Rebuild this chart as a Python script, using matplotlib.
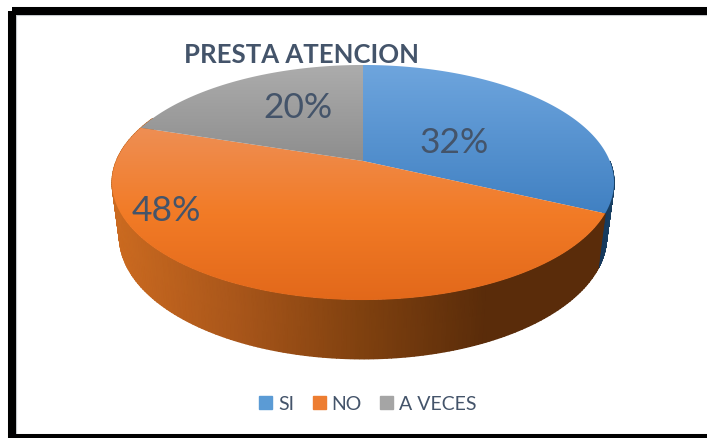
import matplotlib
matplotlib.use('Agg')
import matplotlib.pyplot as plt
from matplotlib.colors import LinearSegmentedColormap
from matplotlib.patches import Polygon, Rectangle
import numpy as np

plt.rcParams['font.family'] = ['Lato', 'DejaVu Sans']

title = 'PRESTA ATENCION'
categories = ['SI', 'NO', 'A VECES']
values = [32, 48, 20]
labels = ['32%', '48%', '20%']
label_pos = [(454, 143), (166, 211), (298, 108)]

# vertical gradient of each top face (far -> near)
top_cols = [['#6fa6de', '#4080c2'], ['#ee8f55', '#f27b26', '#e2681a'], ['#adadad', '#8d8d8d']]
wall_cols = [['#16375a', '#1a4468'], ['#cc6b20', '#a9561a', '#80410f', '#5a2c0a', '#5a2c0a']]
legend_cols = ['#5b9bd5', '#ed7d31', '#a5a5a5']
text_col = '#44546a'


def top_rim(t):
    u, v = np.sin(t), np.cos(t)
    d = 1 + 0.183 * v
    return 363 + 246.8 * u / d, 162 - 113.6 * v / d


def bottom_rim(t):
    u, v = np.sin(t), np.cos(t)
    d = 1 + 0.183 * v
    return 363 + 239.5 * u / d, 215.4 - 118.1 * v / d


fig = plt.figure(figsize=(7.07, 4.39), dpi=100)
ax = fig.add_axes([0, 0, 1, 1])
ax.set_xlim(0, 707)
ax.set_ylim(439, 0)
ax.axis('off')

edges = np.radians(np.cumsum([0] + values) * 3.6)

# side wall, only the part that faces us
wall_ranges = [(np.pi / 2, edges[1]), (edges[1], edges[2] + 0.1)]
for (a, b), cols in zip(wall_ranges, wall_cols):
    t = np.linspace(a, b, 200)
    x0, y0 = top_rim(t)
    x1, y1 = bottom_rim(t)
    X = np.array([x0, x1])
    Y = np.array([y0, y1])
    cm = LinearSegmentedColormap.from_list('w', cols)
    ax.pcolormesh(X, Y, X, cmap=cm, vmin=X.min() if len(cols) == 2 else 112, vmax=X.max() if len(cols) == 2 else 610,
                  shading='gouraud', zorder=2)

# top faces
for i in range(3):
    t = np.linspace(edges[i], edges[i + 1], 200)
    x, y = top_rim(t)
    pts = np.column_stack([np.r_[363, x], np.r_[162, y]])
    face = Polygon(pts, closed=True, facecolor='none', edgecolor='none', zorder=3)
    ax.add_patch(face)
    cm = LinearSegmentedColormap.from_list('t', top_cols[i])
    im = ax.imshow(np.linspace(0, 1, 256).reshape(-1, 1), cmap=cm, aspect='auto',
                   extent=(x.min() - 2, x.max() + 2, max(y.max(), 162) + 2, min(y.min(), 162) - 2), zorder=3)
    im.set_clip_path(face)

ax.set_xlim(0, 707)
ax.set_ylim(439, 0)

for lab, (x, y) in zip(labels, label_pos):
    ax.text(x, y, lab, fontsize=25.5, color=text_col, ha='center', va='center', zorder=5)

ax.text(301, 55, title, fontsize=18.5, fontweight='bold', color=text_col, ha='center', va='center', zorder=5)

handles = [Rectangle((0, 0), 1, 1, color=c) for c in legend_cols]
ax.legend(handles, categories, ncol=3, loc='center', bbox_to_anchor=(368, 405), bbox_transform=ax.transData,
          frameon=False, fontsize=14, labelcolor=text_col, handlelength=0.67, handleheight=0.67,
          handletextpad=0.31, columnspacing=0.93, borderpad=0)

# thick black frame of the screenshot, open on the right
ax.add_patch(Rectangle((12, 12), 800, 427, fill=False, edgecolor='#c4c8cc', lw=6.6, joinstyle='miter', zorder=6))
ax.add_patch(Rectangle((12, 12), 800, 427, fill=False, edgecolor='black', lw=5.76, joinstyle='miter', zorder=7))

fig.savefig('out.png', dpi=100)
